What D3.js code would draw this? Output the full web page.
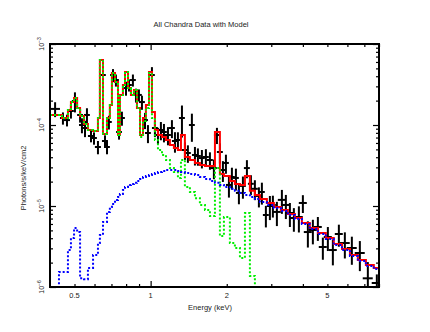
<!DOCTYPE html>
<html>
<head>
<meta charset="utf-8">
<script src="https://cdn.jsdelivr.net/npm/d3@7"></script>
<style>
  html, body { margin: 0; padding: 0; background: #fff; }
  svg { display: block; font-family: "Liberation Sans", Arial, Helvetica, sans-serif; }
</style>
</head>
<body>
<svg id="chart"></svg>
<script>
const title = "All Chandra Data with Model";
const xLabel = "Energy (keV)";
const yLabel = "Photons/s/keV/cm2";

// all fluxes below are in units of 1e-4 photons/s/keV/cm2
const FLUX_UNIT = 1e-4;

// observed spectrum (bin centre, half bin width, flux, 1 sigma)
const dataEnergy = [0.419, 0.450, 0.467, 0.484, 0.502, 0.526, 0.535, 0.550, 0.560, 0.581, 0.597, 0.619, 0.648, 0.660, 0.672, 0.684, 0.710, 0.729, 0.750, 0.770, 0.799, 0.821, 0.851, 0.875, 0.899, 0.924, 0.950, 0.976, 1.012, 1.040, 1.069, 1.098, 1.129, 1.171, 1.214, 1.248, 1.282, 1.330, 1.367, 1.404, 1.456, 1.497, 1.538, 1.595, 1.654, 1.716, 1.779, 1.829, 1.879, 1.931, 1.985, 2.040, 2.096, 2.174, 2.234, 2.317, 2.403, 2.492, 2.584, 2.680, 2.754, 2.856, 2.962, 3.044, 3.157, 3.304, 3.426, 3.554, 3.685, 3.857, 4.000, 4.186, 4.381, 4.585, 4.798, 5.022, 5.256, 5.551, 5.862, 6.248, 6.720, 7.227, 7.844];
const dataEnergyErr = [0.019, 0.012, 0.013, 0.013, 0.014, 0.014, 0.014, 0.015, 0.015, 0.016, 0.016, 0.017, 0.017, 0.018, 0.018, 0.018, 0.019, 0.020, 0.020, 0.021, 0.022, 0.022, 0.023, 0.024, 0.024, 0.025, 0.026, 0.026, 0.027, 0.028, 0.029, 0.030, 0.030, 0.032, 0.033, 0.034, 0.035, 0.036, 0.037, 0.038, 0.039, 0.040, 0.042, 0.043, 0.045, 0.046, 0.048, 0.049, 0.051, 0.052, 0.054, 0.055, 0.057, 0.059, 0.060, 0.063, 0.065, 0.067, 0.070, 0.072, 0.074, 0.077, 0.080, 0.082, 0.114, 0.120, 0.125, 0.129, 0.134, 0.140, 0.146, 0.152, 0.159, 0.167, 0.175, 0.183, 0.191, 0.202, 0.267, 0.284, 0.306, 0.329, 0.357];
const dataFlux = [1.58, 1.22, 1.15, 1.49, 1.98, 1.33, 1.00, 0.918, 1.33, 0.731, 0.691, 0.535, 4.14, 0.635, 0.535, 1.09, 4.14, 3.59, 0.820, 1.22, 2.86, 3.12, 3.59, 2.35, 2.35, 1.92, 1.15, 0.797, 4.14, 0.918, 0.752, 0.868, 0.820, 0.752, 0.918, 0.635, 0.653, 1.22, 0.491, 0.451, 1.00, 0.426, 0.414, 0.391, 0.403, 0.370, 0.294, 0.752, 0.464, 0.278, 0.340, 0.182, 0.228, 0.222, 0.145, 0.177, 0.294, 0.188, 0.163, 0.133, 0.149, 0.0774, 0.100, 0.103, 0.0845, 0.119, 0.103, 0.0820, 0.0711, 0.0731, 0.109, 0.0477, 0.0506, 0.0551, 0.0312, 0.0414, 0.0286, 0.0451, 0.0349, 0.0303, 0.0263, 0.0128, 0.0112];
const dataFluxErr = [0.33, 0.21, 0.19, 0.29, 0.55, 0.26, 0.21, 0.21, 0.28, 0.12, 0.12, 0.10, 0.81, 0.11, 0.10, 0.21, 0.76, 0.61, 0.16, 0.24, 0.56, 0.53, 0.61, 0.46, 0.40, 0.38, 0.26, 0.20, 1.04, 0.21, 0.17, 0.22, 0.21, 0.19, 0.23, 0.18, 0.16, 0.52, 0.12, 0.11, 0.38, 0.11, 0.10, 0.10, 0.10, 0.09, 0.08, 0.17, 0.13, 0.08, 0.09, 0.055, 0.069, 0.067, 0.040, 0.054, 0.074, 0.052, 0.045, 0.037, 0.045, 0.023, 0.033, 0.031, 0.028, 0.039, 0.034, 0.027, 0.023, 0.026, 0.027, 0.017, 0.017, 0.018, 0.0095, 0.0136, 0.0101, 0.0137, 0.0124, 0.0115, 0.0106, 0.0075, 0.0031];

// model bins (keV edges) and the folded model components per bin
const modelEdges = [0.400, 0.434, 0.446, 0.458, 0.471, 0.484, 0.498, 0.512, 0.526, 0.545, 0.565, 0.592, 0.619, 0.630, 0.648, 0.672, 0.690, 0.703, 0.723, 0.743, 0.756, 0.777, 0.792, 0.814, 0.836, 0.859, 0.883, 0.908, 0.933, 0.958, 0.985, 1.012, 1.040, 1.069, 1.109, 1.150, 1.192, 1.236, 1.282, 1.318, 1.366, 1.430, 1.497, 1.566, 1.640, 1.716, 1.796, 1.879, 1.949, 2.058, 2.154, 2.255, 2.360, 2.469, 2.584, 2.704, 2.882, 3.072, 3.274, 3.490, 3.720, 3.964, 4.26, 4.59, 4.93, 5.30, 5.71, 6.14, 6.60, 7.10, 7.63, 8.2];
const totalModel = [1.33, 1.33, 1.22, 1.22, 1.53, 1.92, 2.15, 1.62, 1.29, 1.03, 0.868, 0.844, 1.22, 6.35, 0.774, 1.22, 1.77, 4.39, 3.40, 0.752, 2.35, 3.12, 4.51, 2.86, 2.35, 2.70, 1.62, 0.752, 1.22, 1.77, 4.51, 1.45, 0.868, 0.752, 0.711, 0.653, 0.566, 0.520, 0.491, 0.752, 0.403, 0.370, 0.340, 0.321, 0.312, 0.312, 0.820, 0.248, 0.234, 0.203, 0.187, 0.182, 0.234, 0.154, 0.137, 0.122, 0.109, 0.0972, 0.0893, 0.0796, 0.0711, 0.0617, 0.0536, 0.0464, 0.0402, 0.0340, 0.0294, 0.0248, 0.0215, 0.0187, 0.0172];
const thermalModel = [1.33, 1.33, 1.22, 1.22, 1.53, 1.92, 2.15, 1.62, 1.29, 1.03, 0.868, 0.844, 1.22, 6.35, 0.774, 1.22, 1.77, 4.39, 3.40, 0.752, 2.35, 3.12, 4.51, 2.86, 2.35, 2.70, 1.62, 0.711, 1.12, 1.62, 4.39, 1.22, 0.653, 0.491, 0.426, 0.370, 0.294, 0.263, 0.222, 0.370, 0.172, 0.149, 0.125, 0.103, 0.0893, 0.0752, 0.294, 0.0426, 0.0731, 0.0349, 0.0303, 0.0228, 0.0820, 0.0137, 0.0070];
const powerlawModel = [0.005, 0.0153, 0.0153, 0.0153, 0.0286, 0.0402, 0.0536, 0.0477, 0.0128, 0.0125, 0.0172, 0.0248, 0.0349, 0.0439, 0.0635, 0.0845, 0.0972, 0.106, 0.119, 0.129, 0.141, 0.158, 0.172, 0.182, 0.187, 0.193, 0.203, 0.215, 0.228, 0.234, 0.241, 0.248, 0.255, 0.263, 0.270, 0.278, 0.278, 0.278, 0.270, 0.263, 0.255, 0.248, 0.241, 0.228, 0.215, 0.203, 0.193, 0.182, 0.172, 0.163, 0.154, 0.145, 0.137, 0.129, 0.122, 0.112, 0.103, 0.0945, 0.0868, 0.0774, 0.0691, 0.0600, 0.0520, 0.0451, 0.0391, 0.0330, 0.0286, 0.0241, 0.0209, 0.0182, 0.0167];

// axes
const xTickLabels = [0.5, 1, 2, 5];
const xMajorTicks = [1];
const xMinorTicks = [0.5, 0.6, 0.7, 0.8, 0.9, 2, 3, 4, 5, 6, 7, 8];
const yMajorTicks = [1e-6, 1e-5, 1e-4, 1e-3];
const yTickExponents = ["\u22126", "\u22125", "\u22124", "\u22123"];
const yMinorTicks = [2e-6, 3e-6, 4e-6, 5e-6, 6e-6, 7e-6, 8e-6, 9e-6,
                     2e-5, 3e-5, 4e-5, 5e-5, 6e-5, 7e-5, 8e-5, 9e-5,
                     2e-4, 3e-4, 4e-4, 5e-4, 6e-4, 7e-4, 8e-4, 9e-4];

const width = 430, height = 332;
const marginLeft = 50, marginRight = 51, marginTop = 44, marginBottom = 45;
const plotRight = width - marginRight, plotBottom = height - marginBottom;

const x = d3.scaleLog().domain([0.4, 8]).range([marginLeft, plotRight]);
const y = d3.scaleLog().domain([1e-6, 1e-3]).range([plotBottom, marginTop]);

const svg = d3.select("#chart")
    .attr("width", width)
    .attr("height", height)
    .attr("viewBox", [0, 0, width, height]);

svg.append("rect").attr("width", width).attr("height", height).attr("fill", "#fff");

svg.append("clipPath").attr("id", "plot-clip")
  .append("rect")
    .attr("x", marginLeft).attr("y", marginTop)
    .attr("width", plotRight - marginLeft).attr("height", plotBottom - marginTop);

const plot = svg.append("g").attr("clip-path", "url(#plot-clip)");

// data crosses
const points = d3.range(dataEnergy.length).map(i => ({
  e: dataEnergy[i], de: dataEnergyErr[i],
  f: dataFlux[i] * FLUX_UNIT, df: dataFluxErr[i] * FLUX_UNIT,
}));

const crosses = plot.append("g")
    .attr("stroke", "#000")
    .attr("stroke-width", 2)
  .selectAll("g")
  .data(points)
  .join("g");

crosses.append("line")
    .attr("x1", d => x(d.e - d.de))
    .attr("x2", d => x(d.e + d.de))
    .attr("y1", d => y(d.f))
    .attr("y2", d => y(d.f));

crosses.append("line")
    .attr("x1", d => x(d.e))
    .attr("x2", d => x(d.e))
    .attr("y1", d => y(Math.max(d.f - d.df, 1e-8)))
    .attr("y2", d => y(d.f + d.df));

// model step curves
function steps(values) {
  const pts = values.map((v, i) => [modelEdges[i], v * FLUX_UNIT]);
  pts.push([modelEdges[values.length], values[values.length - 1] * FLUX_UNIT]);
  return pts;
}

const line = d3.line()
    .curve(d3.curveStepAfter)
    .x(d => x(d[0]))
    .y(d => y(d[1]));

plot.append("path")
    .attr("fill", "none")
    .attr("stroke", "#ff0000")
    .attr("stroke-width", 2)
    .attr("d", line(steps(totalModel)));

plot.append("path")
    .attr("fill", "none")
    .attr("stroke", "#00ee00")
    .attr("stroke-width", 2)
    .attr("stroke-dasharray", "2,2")
    .attr("d", line(steps(thermalModel)));

plot.append("path")
    .attr("fill", "none")
    .attr("stroke", "#0000ff")
    .attr("stroke-width", 2)
    .attr("stroke-dasharray", "2,2")
    .attr("d", line(steps(powerlawModel)));

// inward ticks on all four sides
function ticks(axis, transform) {
  svg.append("g")
      .attr("transform", transform)
      .call(axis.tickFormat(""))
      .call(g => g.select(".domain").remove())
      .call(g => g.selectAll(".tick line").attr("stroke", "#000").attr("stroke-width", 1.2));
}
ticks(d3.axisBottom(x).tickValues(xMinorTicks).tickSize(-3), `translate(0,${plotBottom})`);
ticks(d3.axisBottom(x).tickValues(xMajorTicks).tickSize(-6), `translate(0,${plotBottom})`);
ticks(d3.axisTop(x).tickValues(xMinorTicks).tickSize(-3), `translate(0,${marginTop})`);
ticks(d3.axisTop(x).tickValues(xMajorTicks).tickSize(-6), `translate(0,${marginTop})`);
ticks(d3.axisLeft(y).tickValues(yMinorTicks).tickSize(-3), `translate(${marginLeft},0)`);
ticks(d3.axisLeft(y).tickValues(yMajorTicks).tickSize(-6), `translate(${marginLeft},0)`);
ticks(d3.axisRight(y).tickValues(yMinorTicks).tickSize(-3), `translate(${plotRight},0)`);
ticks(d3.axisRight(y).tickValues(yMajorTicks).tickSize(-6), `translate(${plotRight},0)`);

// frame
svg.append("rect")
    .attr("x", marginLeft).attr("y", marginTop)
    .attr("width", plotRight - marginLeft).attr("height", plotBottom - marginTop)
    .attr("fill", "none")
    .attr("stroke", "#000")
    .attr("stroke-width", 2);

// tick labels
svg.append("g")
    .attr("font-size", 7.5)
    .attr("fill", "#222")
    .attr("text-anchor", "middle")
  .selectAll("text")
  .data(xTickLabels)
  .join("text")
    .attr("x", d => x(d))
    .attr("y", plotBottom + 11)
    .text(d => String(d));

const yLabels = svg.append("g")
    .attr("fill", "#222")
  .selectAll("text")
  .data(yMajorTicks)
  .join("text")
    .attr("transform", d => `translate(${marginLeft - 6},${y(d)}) rotate(-90)`)
    .attr("text-anchor", "middle")
    .attr("font-size", 7);
yLabels.append("tspan").text("10");
yLabels.append("tspan")
    .attr("font-size", 5)
    .attr("dy", -3)
    .text((d, i) => yTickExponents[i]);

// titles
svg.append("text")
    .attr("x", 201)
    .attr("y", 27)
    .attr("text-anchor", "middle")
    .attr("font-size", 7.5)
    .attr("fill", "#222")
    .text(title);

svg.append("text")
    .attr("x", 210)
    .attr("y", plotBottom + 23)
    .attr("text-anchor", "middle")
    .attr("font-size", 7.5)
    .attr("fill", "#222")
    .text(xLabel);

svg.append("text")
    .attr("transform", `translate(26,178) rotate(-90)`)
    .attr("text-anchor", "middle")
    .attr("font-size", 7.5)
    .attr("fill", "#222")
    .text(yLabel);
</script>
</body>
</html>
